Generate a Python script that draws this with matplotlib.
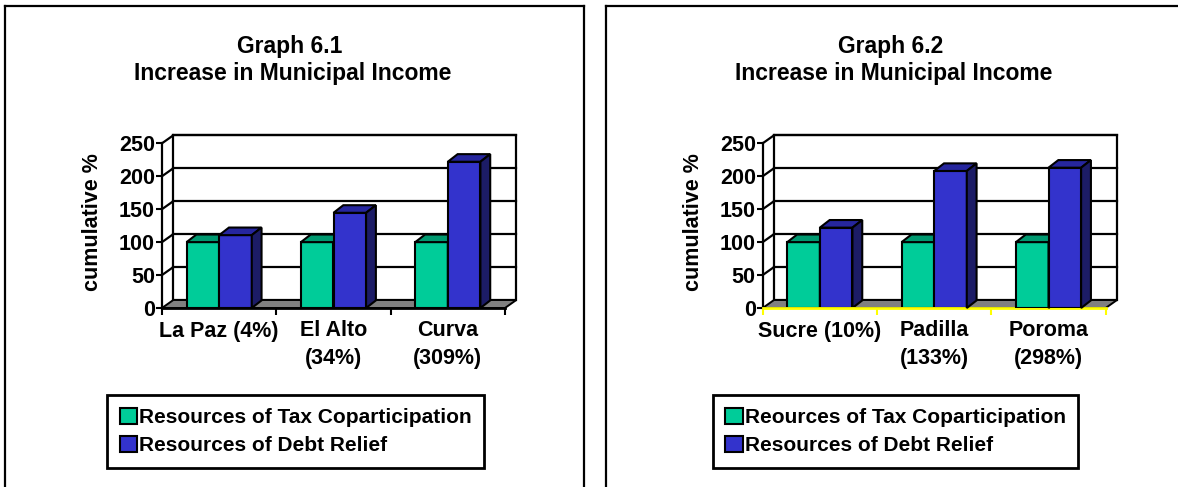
import matplotlib
matplotlib.use("Agg")
import matplotlib.pyplot as plt
from matplotlib.patches import Polygon, Patch
from matplotlib.lines import Line2D
from matplotlib.transforms import IdentityTransform
import numpy as np

plt.rcParams["font.family"] = ["Liberation Sans", "DejaVu Sans"]
plt.rcParams["font.weight"] = "bold"

# ---- data -------------------------------------------------------------
graph_titles = ["Graph 6.1", "Graph 6.2"]
subtitle = "Increase in Municipal Income"
ylabel = "cumulative %"
yticks = [0, 50, 100, 150, 200, 250]

cats_1 = ["La Paz (4%)", "El Alto\n(34%)", "Curva\n(309%)"]
tax_1 = [100, 100, 100]
debt_1 = [110.6, 144.5, 222]
legend_1 = ["Resources of Tax Coparticipation", "Resources of Debt Relief"]

cats_2 = ["Sucre (10%)", "Padilla\n(133%)", "Poroma\n(298%)"]
tax_2 = [100, 100, 100]
debt_2 = [122, 208, 213]
legend_2 = ["Reources of Tax Coparticipation", "Resources of Debt Relief"]

# ---- styling ----------------------------------------------------------
GREEN, GREEN_TOP, GREEN_SIDE = "#00CC99", "#009970", "#006B4F"
BLUE, BLUE_TOP, BLUE_SIDE = "#3333CC", "#26269E", "#1C1C66"
FLOOR = "#808080"

W, H = 1178, 487
fig = plt.figure(figsize=(W / 100, H / 100), dpi=100)
fig.patch.set_facecolor("white")

WALL_D = np.array([11.3, 8.0])   # depth of the chart box, pixels
BAR_D = np.array([9.8, 7.6])     # depth of each column, pixels
BAR_W = 0.285                    # column width in category units


def px_box(left, top, right, bottom):
    return [left / W, 1 - bottom / H, (right - left) / W, (bottom - top) / H]


def draw_panel(shift, title, cats, tax, debt, labels, axis_color, legend_x):
    # panel frame
    fl = dict(transform=fig.transFigure, color="black", lw=1.6)
    fig.add_artist(Line2D([(5 + shift) / W] * 2, [0, 1 - 5.5 / H], **fl))
    fig.add_artist(Line2D([(5 + shift) / W, (584 + shift) / W], [1 - 5.5 / H] * 2, **fl))
    if shift == 0:
        fig.add_artist(Line2D([584 / W] * 2, [0, 1 - 5.5 / H], **fl))

    fig.text((290 + shift) / W, 1 - 53.5 / H, title, ha="center", va="baseline",
             fontsize=16.5, fontweight="bold")
    fig.text((293 + shift) / W, 1 - 80 / H, subtitle, ha="center", va="baseline",
             fontsize=16.5, fontweight="bold")

    ax = fig.add_axes(px_box(162 + shift, 143.3, 505 + shift, 308))
    ax.set_xlim(0, 3)
    ax.set_ylim(0, 250)
    ax.patch.set_visible(False)
    for s in ("top", "right"):
        ax.spines[s].set_visible(False)
    ax.spines["left"].set_linewidth(1.6)
    ax.spines["bottom"].set_linewidth(2)
    ax.spines["bottom"].set_color(axis_color)
    ax.spines["left"].set_zorder(5)
    ax.spines["bottom"].set_zorder(5)

    ax.set_yticks(yticks)
    ax.set_yticklabels([str(v) for v in yticks])
    ax.tick_params(axis="y", direction="out", length=4, width=1.5, pad=1,
                   labelsize=15.5)
    ax.set_xticks([0, 1, 2, 3])
    ax.set_xticklabels([])
    ax.tick_params(axis="x", which="major", direction="out", length=5, width=1.5,
                   color=axis_color)
    ax.set_xticks([0.5, 1.5, 2.5], minor=True)
    ax.set_xticklabels(cats, minor=True)
    ax.tick_params(axis="x", which="minor", length=0, pad=9, labelsize=15.5)
    for lbl in ax.get_xticklabels(minor=True):
        lbl.set_fontweight("bold")
        lbl.set_linespacing(1.4)
    for lbl in ax.get_yticklabels():
        lbl.set_fontweight("bold")

    fig.text((93 + shift) / W, 1 - 222 / H, ylabel, rotation=90, ha="center",
             va="center", fontsize=15.5, fontweight="bold")

    T = ax.transData
    ident = IdentityTransform()

    def P(x, y, off=(0, 0)):
        return T.transform((x, y)) + np.asarray(off)

    def add(artist):
        artist.set_clip_on(False)
        ax.add_artist(artist)

    # back wall with grid, side-wall grid lines, floor
    add(Polygon([P(0, 0, WALL_D), P(3, 0, WALL_D), P(3, 250, WALL_D),
                 P(0, 250, WALL_D)], closed=True, transform=ident,
                facecolor="white", edgecolor="black", lw=1.6, zorder=0.5))
    for v in yticks[1:]:
        a, b = P(0, v, WALL_D), P(3, v, WALL_D)
        add(Line2D([a[0], b[0]], [a[1], b[1]], transform=ident,
                   color="black", lw=1.6, zorder=0.6))
        c = P(0, v)
        add(Line2D([c[0], a[0]], [c[1], a[1]], transform=ident,
                   color="black", lw=1.6, zorder=0.6))
    add(Polygon([P(0, 0), P(3, 0), P(3, 0, WALL_D), P(0, 0, WALL_D)],
                closed=True, transform=ident, facecolor=FLOOR,
                edgecolor="black", lw=1.4, zorder=0.7))

    # columns: front faces through ax.bar, top and side faces from the same values
    x = np.arange(len(cats)) + 0.5
    z = 2
    for i in range(len(cats)):
        for xl, v, cf, ct, cs in ((x[i] - BAR_W, tax[i], GREEN, GREEN_TOP, GREEN_SIDE),
                                  (x[i], debt[i], BLUE, BLUE_TOP, BLUE_SIDE)):
            xr = xl + BAR_W
            ax.bar(xl, v, width=BAR_W, align="edge", color=cf, edgecolor="black",
                   linewidth=1.5, zorder=z)
            add(Polygon([P(xl, v), P(xr, v), P(xr, v, BAR_D), P(xl, v, BAR_D)],
                        closed=True, transform=ident, facecolor=ct,
                        edgecolor="black", lw=1.5, zorder=z + 0.1))
            add(Polygon([P(xr, 0), P(xr, v), P(xr, v, BAR_D), P(xr, 0, BAR_D)],
                        closed=True, transform=ident, facecolor=cs,
                        edgecolor="black", lw=1.5, zorder=z + 0.1))
            z += 1

    handles = [Patch(facecolor=GREEN, edgecolor="black", lw=1.5),
               Patch(facecolor=BLUE, edgecolor="black", lw=1.5)]
    leg = fig.legend(handles, labels, loc="upper left",
                     bbox_to_anchor=((legend_x + shift) / W, 1 - 395 / H),
                     bbox_transform=fig.transFigure, frameon=True, fancybox=False,
                     framealpha=1, edgecolor="black", fontsize=15,
                     handlelength=0.85, handleheight=0.85, handletextpad=0.1,
                     borderpad=0.6, labelspacing=0.42, borderaxespad=0)
    leg.get_frame().set_linewidth(2)
    for t in leg.get_texts():
        t.set_fontweight("bold")


draw_panel(0, graph_titles[0], cats_1, tax_1, debt_1, legend_1, "black", 107)
draw_panel(600.7, graph_titles[1], cats_2, tax_2, debt_2, legend_2, "#FFFF00", 112)

fig.savefig("out.png", dpi=100, facecolor="white")
